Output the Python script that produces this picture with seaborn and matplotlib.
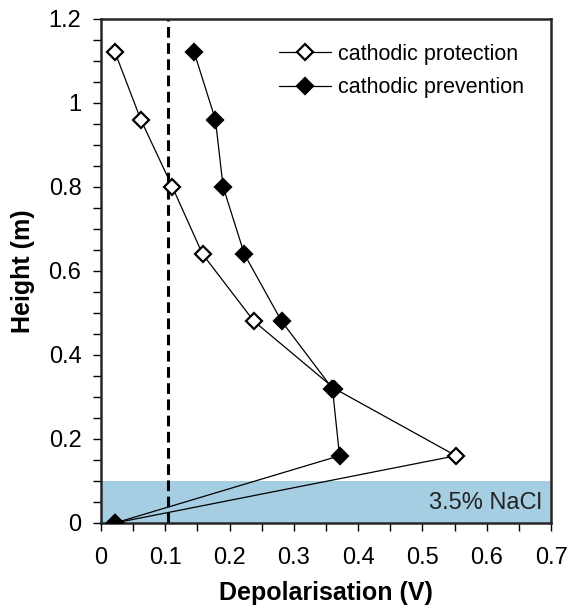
import matplotlib
matplotlib.use('Agg')
import matplotlib.pyplot as plt
import seaborn as sns
import pandas as pd
from matplotlib.ticker import MultipleLocator

# heights (m) of the measuring points
height = [1.12, 0.96, 0.80, 0.64, 0.48, 0.32, 0.16, 0.0]
# depolarisation (V)
protection = [0.022, 0.062, 0.111, 0.158, 0.238, 0.363, 0.552, 0.022]
prevention = [0.145, 0.178, 0.190, 0.223, 0.281, 0.360, 0.371, 0.022]
series_names = ['cathodic protection', 'cathodic prevention']

limit_line = 0.104
nacl_level = 0.1

df = pd.DataFrame({
    'Depolarisation': protection + prevention,
    'Height': height + height,
    'series': [series_names[0]] * len(height) + [series_names[1]] * len(height),
})

sns.set_style('ticks')
plt.rcParams['font.family'] = ['Liberation Sans', 'DejaVu Sans']
plt.rcParams['text.color'] = 'black'
plt.rcParams['axes.labelcolor'] = 'black'
plt.rcParams['xtick.color'] = 'black'
plt.rcParams['ytick.color'] = 'black'

fig, ax = plt.subplots(figsize=(5.67, 6.06), dpi=100)
fig.subplots_adjust(left=0.178, right=0.972, top=0.969, bottom=0.137)

ax.axhspan(0, nacl_level, color='#a6cee3', zorder=0, lw=0)
ax.axvline(limit_line, color='black', ls=(0, (3.5, 1.8)), lw=2.2, zorder=1)

face = {series_names[0]: 'white', series_names[1]: 'black'}
for name in series_names:
    sub = df[df['series'] == name]
    sns.lineplot(data=sub, x='Depolarisation', y='Height', sort=False, estimator=None,
                 color='black', lw=0.9, marker='D', markersize=8.5,
                 markerfacecolor=face[name], markeredgecolor='black', markeredgewidth=1.6,
                 label=name, ax=ax, zorder=3)

ax.text(0.685, 0.048, '3.5% NaCl', ha='right', va='center', fontsize=17, color='#222222')

ax.set_xlim(0, 0.7)
ax.set_ylim(0, 1.2)
ax.xaxis.set_major_locator(MultipleLocator(0.1))
ax.xaxis.set_minor_locator(MultipleLocator(0.05))
ax.yaxis.set_major_locator(MultipleLocator(0.2))
ax.yaxis.set_minor_locator(MultipleLocator(0.05))
ax.xaxis.set_major_formatter(plt.FuncFormatter(lambda v, p: f'{v:g}'))
ax.yaxis.set_major_formatter(plt.FuncFormatter(lambda v, p: f'{v:g}'))
ax.tick_params(which='both', direction='out', length=6, width=1, labelsize=17)
ax.tick_params(axis='x', pad=11)
ax.tick_params(axis='y', pad=8)

for s in ax.spines.values():
    s.set_linewidth(1.8)
    s.set_visible(True)

ax.set_xlabel('Depolarisation (V)', fontsize=18, fontweight='bold', labelpad=9)
ax.set_ylabel('Height (m)', fontsize=18, fontweight='bold', labelpad=10)

leg = ax.legend(loc='upper left', bbox_to_anchor=(0.396, 0.95), frameon=False, fontsize=15.5,
                handlelength=2.4, borderpad=0, borderaxespad=0, labelspacing=0.57,
                handletextpad=0.35)

fig.savefig('out.png', dpi=100)
